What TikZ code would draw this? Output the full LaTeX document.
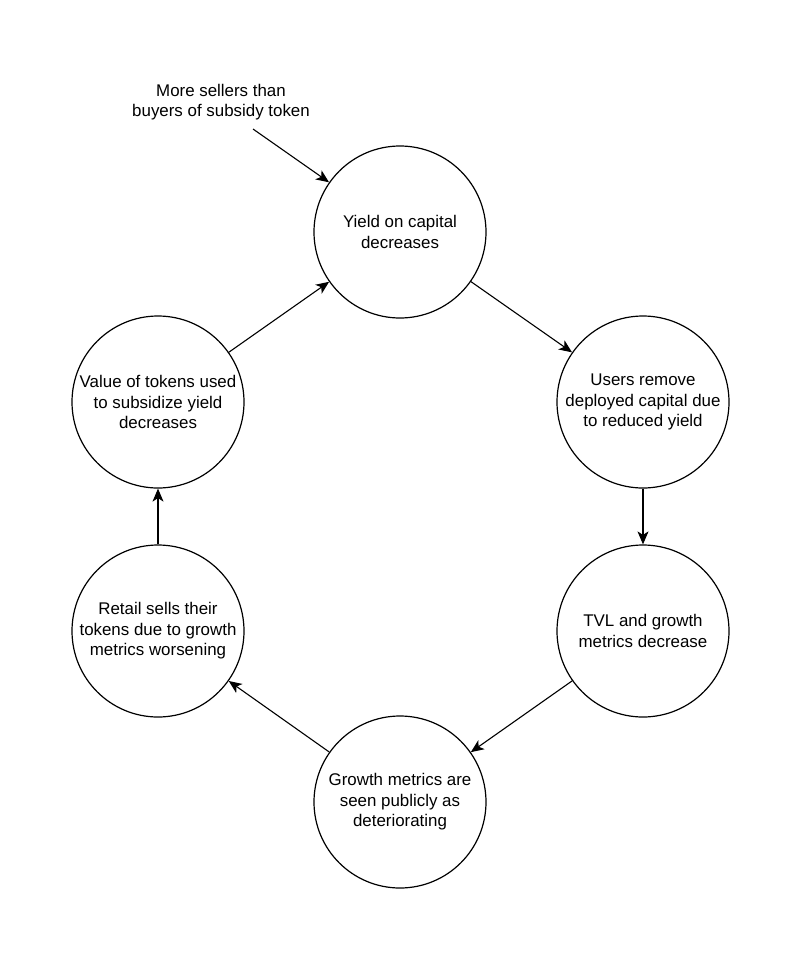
\documentclass[tikz,border=0pt]{standalone}
\usepackage{fontspec}
\setmainfont{Liberation Sans}
\usetikzlibrary{arrows.meta}
\begin{document}
\begin{tikzpicture}[x=1pt,y=-1pt,
  cyc/.style={circle,draw,line width=1.2pt,minimum size=172pt,inner sep=-20pt,align=center,font=\fontsize{16.9}{20.6}\selectfont},
  lbl/.style={align=center,inner sep=0pt,font=\fontsize{16.9}{20.6}\selectfont},
  arr/.style={-{Stealth[length=13pt,width=11pt,inset=3.5pt]},line width=1.1pt}]
\useasboundingbox[fill=white] (0,0) rectangle (800,959);
\node[cyc] (top) at (400,232) {Yield on capital\\decreases};
\node[cyc] (ru) at (643,402) {Users remove\\deployed capital due\\to reduced yield};
\node[cyc] (rl) at (643,631) {TVL and growth\\metrics decrease};
\node[cyc] (bot) at (400,802) {Growth metrics are\\seen publicly as\\deteriorating};
\node[cyc] (ll) at (158,631) {Retail sells their\\tokens due to growth\\metrics worsening};
\node[cyc] (lu) at (158,402) {Value of tokens used\\to subsidize yield\\decreases};
\node[lbl] (cause) at (221,102) {More sellers than\\buyers of subsidy token};
\coordinate (cstart) at (253,129);
\draw[arr] (cstart) -- (top);
\draw[arr] (top) -- (ru);
\draw[arr] (ru) -- (rl);
\draw[arr] (rl) -- (bot);
\draw[arr] (bot) -- (ll);
\draw[arr] (ll) -- (lu);
\draw[arr] (lu) -- (top);
\end{tikzpicture}
\end{document}
